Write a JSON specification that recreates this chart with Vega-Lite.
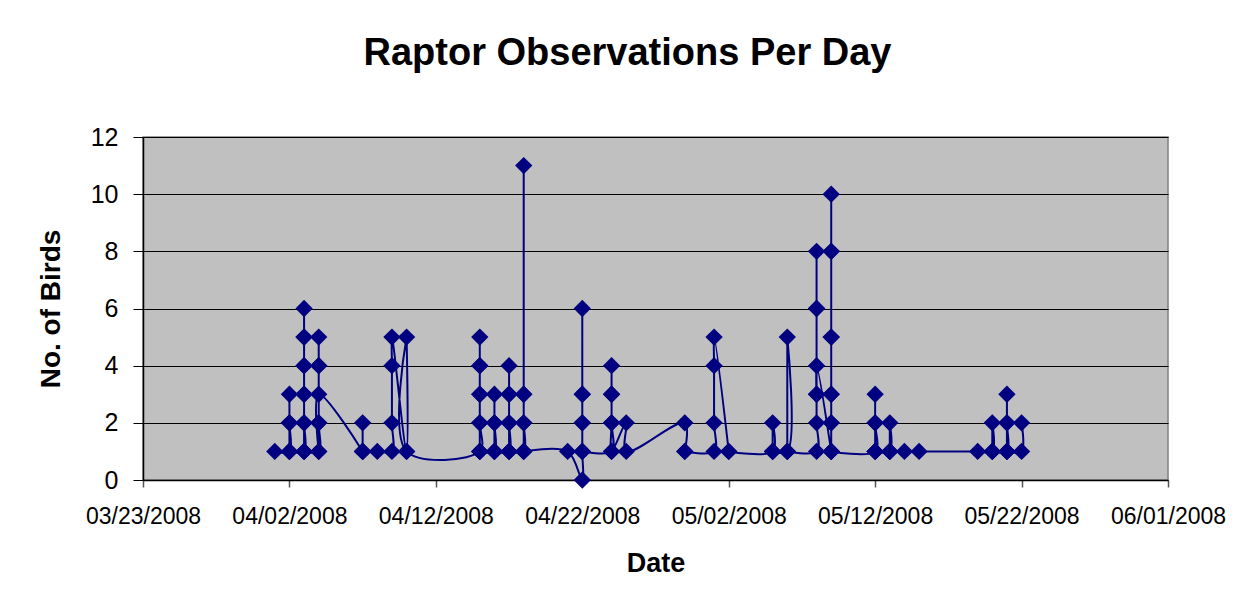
{
  "$schema": "https://vega.github.io/schema/vega-lite/v6.json",
  "autosize": {"type": "none"},
  "width": 1025,
  "height": 343,
  "padding": {"left": 143, "top": 137, "right": 80, "bottom": 127},
  "background": "#ffffff",
  "title": {
    "text": "Raptor Observations Per Day",
    "font": "Liberation Sans",
    "fontSize": 38,
    "fontWeight": "bold",
    "color": "#000000",
    "anchor": "middle",
    "frame": "group",
    "dx": -28,
    "offset": 52
  },
  "data": {
    "values": [
      {"date": "2008/04/01", "birds": 1, "seq": 1},
      {"date": "2008/04/02", "birds": 1, "seq": 2},
      {"date": "2008/04/02", "birds": 2, "seq": 3},
      {"date": "2008/04/02", "birds": 3, "seq": 4},
      {"date": "2008/04/02", "birds": 2, "seq": 5},
      {"date": "2008/04/02", "birds": 1, "seq": 6},
      {"date": "2008/04/02", "birds": 1, "seq": 7},
      {"date": "2008/04/03", "birds": 1, "seq": 8},
      {"date": "2008/04/03", "birds": 2, "seq": 9},
      {"date": "2008/04/03", "birds": 3, "seq": 10},
      {"date": "2008/04/03", "birds": 4, "seq": 11},
      {"date": "2008/04/03", "birds": 5, "seq": 12},
      {"date": "2008/04/03", "birds": 6, "seq": 13},
      {"date": "2008/04/03", "birds": 5, "seq": 14},
      {"date": "2008/04/03", "birds": 4, "seq": 15},
      {"date": "2008/04/03", "birds": 3, "seq": 16},
      {"date": "2008/04/03", "birds": 2, "seq": 17},
      {"date": "2008/04/03", "birds": 1, "seq": 18},
      {"date": "2008/04/03", "birds": 1, "seq": 19},
      {"date": "2008/04/04", "birds": 1, "seq": 20},
      {"date": "2008/04/04", "birds": 2, "seq": 21},
      {"date": "2008/04/04", "birds": 4, "seq": 22},
      {"date": "2008/04/04", "birds": 5, "seq": 23},
      {"date": "2008/04/04", "birds": 4, "seq": 24},
      {"date": "2008/04/04", "birds": 2, "seq": 25},
      {"date": "2008/04/04", "birds": 1, "seq": 26},
      {"date": "2008/04/04", "birds": 3, "seq": 27},
      {"date": "2008/04/07", "birds": 1, "seq": 28},
      {"date": "2008/04/07", "birds": 1, "seq": 29},
      {"date": "2008/04/07", "birds": 2, "seq": 30},
      {"date": "2008/04/07", "birds": 1, "seq": 31},
      {"date": "2008/04/07", "birds": 1, "seq": 32},
      {"date": "2008/04/08", "birds": 1, "seq": 33},
      {"date": "2008/04/09", "birds": 1, "seq": 34},
      {"date": "2008/04/09", "birds": 2, "seq": 35},
      {"date": "2008/04/09", "birds": 4, "seq": 36},
      {"date": "2008/04/09", "birds": 5, "seq": 37},
      {"date": "2008/04/10", "birds": 1, "seq": 38},
      {"date": "2008/04/10", "birds": 5, "seq": 39},
      {"date": "2008/04/10", "birds": 1, "seq": 40},
      {"date": "2008/04/15", "birds": 1, "seq": 41},
      {"date": "2008/04/15", "birds": 2, "seq": 42},
      {"date": "2008/04/15", "birds": 3, "seq": 43},
      {"date": "2008/04/15", "birds": 4, "seq": 44},
      {"date": "2008/04/15", "birds": 5, "seq": 45},
      {"date": "2008/04/15", "birds": 4, "seq": 46},
      {"date": "2008/04/15", "birds": 3, "seq": 47},
      {"date": "2008/04/15", "birds": 2, "seq": 48},
      {"date": "2008/04/15", "birds": 1, "seq": 49},
      {"date": "2008/04/15", "birds": 1, "seq": 50},
      {"date": "2008/04/16", "birds": 1, "seq": 51},
      {"date": "2008/04/16", "birds": 2, "seq": 52},
      {"date": "2008/04/16", "birds": 3, "seq": 53},
      {"date": "2008/04/16", "birds": 2, "seq": 54},
      {"date": "2008/04/16", "birds": 1, "seq": 55},
      {"date": "2008/04/16", "birds": 1, "seq": 56},
      {"date": "2008/04/17", "birds": 1, "seq": 57},
      {"date": "2008/04/17", "birds": 2, "seq": 58},
      {"date": "2008/04/17", "birds": 3, "seq": 59},
      {"date": "2008/04/17", "birds": 4, "seq": 60},
      {"date": "2008/04/17", "birds": 3, "seq": 61},
      {"date": "2008/04/17", "birds": 2, "seq": 62},
      {"date": "2008/04/17", "birds": 1, "seq": 63},
      {"date": "2008/04/17", "birds": 1, "seq": 64},
      {"date": "2008/04/18", "birds": 1, "seq": 65},
      {"date": "2008/04/18", "birds": 2, "seq": 66},
      {"date": "2008/04/18", "birds": 3, "seq": 67},
      {"date": "2008/04/18", "birds": 11, "seq": 68},
      {"date": "2008/04/18", "birds": 3, "seq": 69},
      {"date": "2008/04/18", "birds": 2, "seq": 70},
      {"date": "2008/04/18", "birds": 1, "seq": 71},
      {"date": "2008/04/18", "birds": 1, "seq": 72},
      {"date": "2008/04/21", "birds": 1, "seq": 73},
      {"date": "2008/04/22", "birds": 0, "seq": 74},
      {"date": "2008/04/22", "birds": 1, "seq": 75},
      {"date": "2008/04/22", "birds": 2, "seq": 76},
      {"date": "2008/04/22", "birds": 3, "seq": 77},
      {"date": "2008/04/22", "birds": 6, "seq": 78},
      {"date": "2008/04/22", "birds": 3, "seq": 79},
      {"date": "2008/04/22", "birds": 2, "seq": 80},
      {"date": "2008/04/22", "birds": 1, "seq": 81},
      {"date": "2008/04/22", "birds": 1, "seq": 82},
      {"date": "2008/04/24", "birds": 1, "seq": 83},
      {"date": "2008/04/24", "birds": 2, "seq": 84},
      {"date": "2008/04/24", "birds": 3, "seq": 85},
      {"date": "2008/04/24", "birds": 4, "seq": 86},
      {"date": "2008/04/24", "birds": 3, "seq": 87},
      {"date": "2008/04/24", "birds": 2, "seq": 88},
      {"date": "2008/04/24", "birds": 1, "seq": 89},
      {"date": "2008/04/25", "birds": 2, "seq": 90},
      {"date": "2008/04/25", "birds": 1, "seq": 91},
      {"date": "2008/04/29", "birds": 2, "seq": 92},
      {"date": "2008/04/29", "birds": 1, "seq": 93},
      {"date": "2008/04/29", "birds": 1, "seq": 94},
      {"date": "2008/05/01", "birds": 1, "seq": 95},
      {"date": "2008/05/01", "birds": 2, "seq": 96},
      {"date": "2008/05/01", "birds": 4, "seq": 97},
      {"date": "2008/05/01", "birds": 5, "seq": 98},
      {"date": "2008/05/02", "birds": 1, "seq": 99},
      {"date": "2008/05/02", "birds": 1, "seq": 100},
      {"date": "2008/05/05", "birds": 1, "seq": 101},
      {"date": "2008/05/05", "birds": 2, "seq": 102},
      {"date": "2008/05/05", "birds": 1, "seq": 103},
      {"date": "2008/05/05", "birds": 1, "seq": 104},
      {"date": "2008/05/06", "birds": 1, "seq": 105},
      {"date": "2008/05/06", "birds": 5, "seq": 106},
      {"date": "2008/05/06", "birds": 1, "seq": 107},
      {"date": "2008/05/06", "birds": 1, "seq": 108},
      {"date": "2008/05/08", "birds": 1, "seq": 109},
      {"date": "2008/05/08", "birds": 2, "seq": 110},
      {"date": "2008/05/08", "birds": 3, "seq": 111},
      {"date": "2008/05/08", "birds": 6, "seq": 112},
      {"date": "2008/05/08", "birds": 8, "seq": 113},
      {"date": "2008/05/08", "birds": 6, "seq": 114},
      {"date": "2008/05/08", "birds": 3, "seq": 115},
      {"date": "2008/05/08", "birds": 4, "seq": 116},
      {"date": "2008/05/09", "birds": 1, "seq": 117},
      {"date": "2008/05/09", "birds": 1, "seq": 118},
      {"date": "2008/05/09", "birds": 2, "seq": 119},
      {"date": "2008/05/09", "birds": 3, "seq": 120},
      {"date": "2008/05/09", "birds": 5, "seq": 121},
      {"date": "2008/05/09", "birds": 8, "seq": 122},
      {"date": "2008/05/09", "birds": 10, "seq": 123},
      {"date": "2008/05/09", "birds": 8, "seq": 124},
      {"date": "2008/05/09", "birds": 5, "seq": 125},
      {"date": "2008/05/09", "birds": 3, "seq": 126},
      {"date": "2008/05/09", "birds": 2, "seq": 127},
      {"date": "2008/05/09", "birds": 1, "seq": 128},
      {"date": "2008/05/09", "birds": 1, "seq": 129},
      {"date": "2008/05/12", "birds": 1, "seq": 130},
      {"date": "2008/05/12", "birds": 2, "seq": 131},
      {"date": "2008/05/12", "birds": 3, "seq": 132},
      {"date": "2008/05/12", "birds": 2, "seq": 133},
      {"date": "2008/05/12", "birds": 1, "seq": 134},
      {"date": "2008/05/12", "birds": 1, "seq": 135},
      {"date": "2008/05/13", "birds": 1, "seq": 136},
      {"date": "2008/05/13", "birds": 2, "seq": 137},
      {"date": "2008/05/13", "birds": 1, "seq": 138},
      {"date": "2008/05/13", "birds": 1, "seq": 139},
      {"date": "2008/05/14", "birds": 1, "seq": 140},
      {"date": "2008/05/15", "birds": 1, "seq": 141},
      {"date": "2008/05/19", "birds": 1, "seq": 142},
      {"date": "2008/05/20", "birds": 1, "seq": 143},
      {"date": "2008/05/20", "birds": 2, "seq": 144},
      {"date": "2008/05/20", "birds": 1, "seq": 145},
      {"date": "2008/05/20", "birds": 1, "seq": 146},
      {"date": "2008/05/21", "birds": 1, "seq": 147},
      {"date": "2008/05/21", "birds": 2, "seq": 148},
      {"date": "2008/05/21", "birds": 3, "seq": 149},
      {"date": "2008/05/21", "birds": 2, "seq": 150},
      {"date": "2008/05/21", "birds": 1, "seq": 151},
      {"date": "2008/05/21", "birds": 1, "seq": 152},
      {"date": "2008/05/22", "birds": 1, "seq": 153},
      {"date": "2008/05/22", "birds": 2, "seq": 154}
    ]
  },
  "encoding": {
    "x": {
      "field": "date",
      "type": "temporal",
      "scale": {
        "domain": [
          {"year": 2008, "month": 3, "date": 23},
          {"year": 2008, "month": 6, "date": 1}
        ],
        "nice": false
      },
      "axis": {
        "title": "Date",
        "values": [
          {"year": 2008, "month": 3, "date": 23},
          {"year": 2008, "month": 4, "date": 2},
          {"year": 2008, "month": 4, "date": 12},
          {"year": 2008, "month": 4, "date": 22},
          {"year": 2008, "month": 5, "date": 2},
          {"year": 2008, "month": 5, "date": 12},
          {"year": 2008, "month": 5, "date": 22},
          {"year": 2008, "month": 6, "date": 1}
        ],
        "format": "%m/%d/%Y",
        "grid": false,
        "labelFlush": false,
        "labelOverlap": false,
        "labelBound": false,
        "labelFont": "Liberation Sans",
        "labelFontSize": 23,
        "labelColor": "#000000",
        "labelPadding": 18,
        "tickSize": 7,
        "tickColor": "#555555",
        "tickWidth": 1.5,
        "domainColor": "#000000",
        "domainWidth": 1.5,
        "titleFont": "Liberation Sans",
        "titleFontSize": 27,
        "titleFontWeight": "bold",
        "titleColor": "#000000",
        "titlePadding": 22
      }
    },
    "y": {
      "field": "birds",
      "type": "quantitative",
      "scale": {"domain": [0, 12], "nice": false, "zero": true},
      "axis": {
        "title": "No. of Birds",
        "values": [0, 2, 4, 6, 8, 10, 12],
        "grid": true,
        "gridColor": "#000000",
        "gridWidth": 1,
        "gridOpacity": 1,
        "labelFont": "Liberation Sans",
        "labelFontSize": 25,
        "labelColor": "#000000",
        "labelPadding": 15,
        "tickSize": 10,
        "tickColor": "#000000",
        "tickWidth": 1,
        "domainColor": "#000000",
        "domainWidth": 1.5,
        "titleFont": "Liberation Sans",
        "titleFontSize": 28,
        "titleFontWeight": "bold",
        "titleColor": "#000000",
        "titlePadding": 25
      }
    }
  },
  "layer": [
    {
      "mark": {
        "type": "line",
        "interpolate": "catmull-rom",
        "color": "#000080",
        "strokeWidth": 2
      },
      "encoding": {
        "order": {"field": "seq", "type": "quantitative"}
      }
    },
    {
      "mark": {
        "type": "point",
        "shape": "diamond",
        "filled": true,
        "size": 300,
        "color": "#000080",
        "opacity": 1
      }
    }
  ],
  "config": {
    "view": {"fill": "#C0C0C0", "stroke": "#808080", "strokeWidth": 1.5}
  }
}
